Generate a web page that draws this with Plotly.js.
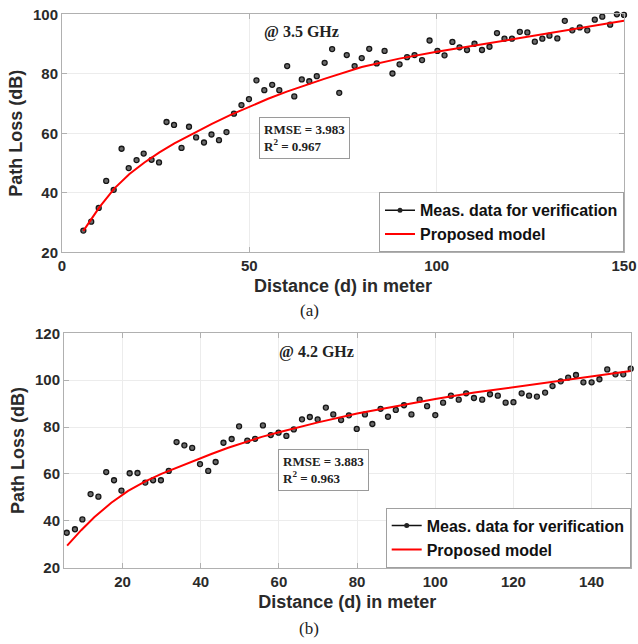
<!DOCTYPE html>
<html>
<head>
<meta charset="utf-8">
<script src="https://cdn.plot.ly/plotly-3.0.1.min.js"></script>
<style>html,body{margin:0;padding:0;background:#fff;}#chart{width:638px;height:644px;}</style>
</head>
<body>
<div id="chart"></div>
<script>
// (a) 3.5 GHz measured data
const distA = [5.7,7.8,9.8,11.8,13.8,15.9,17.8,19.9,21.8,23.9,25.9,27.9,29.9,31.9,33.9,35.8,37.9,39.9,41.9,43.9,45.9,47.9,49.9,51.9,54.0,56.1,58.0,60.1,62.0,64.0,66.0,68.0,70.1,72.1,74.0,76.0,78.1,80.0,82.0,84.0,86.1,88.2,90.1,92.1,94.1,96.1,98.1,100.2,102.1,104.2,106.1,108.1,110.1,112.1,114.1,116.1,118.1,120.1,122.2,124.2,126.2,128.2,130.1,132.2,134.2,136.2,138.2,140.2,142.2,144.2,146.3,148.1,150.0];
const lossA = [27.3,30.3,34.9,44.0,41.0,54.8,48.3,51.0,53.2,51.1,50.2,63.8,62.8,55.1,62.2,58.6,56.9,59.6,57.7,60.4,66.6,69.5,71.5,77.8,74.5,76.3,74.5,82.6,72.4,78.1,77.5,79.2,83.7,88.3,73.6,86.3,82.6,85.3,88.4,83.5,87.7,80.1,83.2,85.6,86.3,84.6,91.2,87.7,86.2,90.7,88.9,88.0,90.1,88.0,89.1,93.7,91.8,91.8,94.1,93.9,90.8,91.8,92.8,91.9,97.8,94.6,95.6,94.6,98.2,99.2,96.5,100.0,99.8];
// (a) proposed model curve
const modelDistA = [5.7,8,10,14,18,22,26,30,35,40,45,50,55,60,70,80,90,100,110,120,130,140,150];
const modelLossA = [27.2,31.5,35.2,41.5,46.3,50.2,53.6,56.6,60.0,63.2,66.2,69.0,71.6,74.0,78.3,82.3,85.1,87.4,89.5,91.6,93.7,95.8,97.8];

// (b) 4.2 GHz measured data
const distB = [5.7,7.8,9.7,11.8,13.8,15.8,17.8,19.7,21.8,23.8,25.8,27.8,29.8,31.8,33.8,35.8,37.8,39.8,41.9,43.8,45.8,47.9,49.8,51.9,53.9,55.9,57.9,59.9,61.9,63.8,65.9,67.9,69.9,72.0,73.9,75.9,77.9,79.9,82.0,83.9,86.0,87.9,89.9,92.0,93.9,96.0,97.9,100.0,102.0,104.0,106.0,107.9,109.9,112.0,114.0,116.0,118.0,120.0,122.1,124.0,126.0,128.1,130.0,132.1,134.0,136.0,137.9,140.0,142.0,144.0,146.1,148.1,150.0];
const lossB = [34.9,36.4,40.6,51.4,50.3,60.8,57.3,52.9,60.3,60.4,56.3,57.3,57.3,61.3,73.6,72.2,71.1,64.2,61.3,65.1,73.3,74.9,80.3,74.2,75.0,80.7,76.6,77.6,76.2,79.0,83.3,84.3,83.3,88.3,85.4,83.0,85.0,79.2,85.4,81.3,87.8,84.4,87.3,89.3,85.4,91.7,88.9,85.1,90.4,93.4,91.7,94.4,92.4,91.7,94.0,93.4,90.4,90.6,94.4,93.4,93.0,94.7,97.5,99.5,101.1,102.2,99.1,99.1,100.4,104.6,102.5,102.5,104.9];
// (b) proposed model curve
const modelDistB = [5.8,9.4,12.8,17.1,21.4,25.8,29.9,34.0,38.5,42.7,47.0,55.6,60,70,80,90,100,110,120,130,140,150];
const modelLossB = [29.4,36.0,41.6,47.7,52.8,56.8,60.0,62.8,65.8,68.5,71.2,75.8,77.8,82.0,85.8,89.0,92.0,94.7,97.0,99.3,101.6,103.9];

const xTicksA = [0,50,100,150];
const yTicksA = [20,40,60,80,100];
const xTicksB = [20,40,60,80,100,120,140];
const yTicksB = [20,40,60,80,100,120];

const seriesNames = ['Meas. data for verification','Proposed model'];
const statsA = ['RMSE = 3.983','R<sup>2</sup> = 0.967'];
const statsB = ['RMSE = 3.883','R<sup>2</sup> = 0.963'];

const W = 638, H = 644;
const sans = 'Liberation Sans, Arial, sans-serif';
const serif = 'Liberation Serif, Times New Roman, serif';

const markerStyle = {symbol:'circle', size:5, color:'#6a6a6a', line:{color:'#151515', width:1.3}};
const redLine = {color:'#ff0000', width:2};

const traces = [
  {x:distA, y:lossA, xaxis:'x', yaxis:'y', mode:'markers', marker:markerStyle, showlegend:false, cliponaxis:false},
  {x:modelDistA, y:modelLossA, xaxis:'x', yaxis:'y', mode:'lines', line:Object.assign({shape:'linear'}, redLine), showlegend:false},
  {x:[null], y:[null], xaxis:'x', yaxis:'y', mode:'lines+markers', name:seriesNames[0], line:{color:'#111', width:1.5}, marker:{symbol:'circle', size:5, color:'#222'}, legend:'legend'},
  {x:[null], y:[null], xaxis:'x', yaxis:'y', mode:'lines', name:seriesNames[1], line:redLine, legend:'legend'},

  {x:distB, y:lossB, xaxis:'x2', yaxis:'y2', mode:'markers', marker:markerStyle, showlegend:false, cliponaxis:false},
  {x:modelDistB, y:modelLossB, xaxis:'x2', yaxis:'y2', mode:'lines', line:Object.assign({shape:'linear'}, redLine), showlegend:false},
  {x:[null], y:[null], xaxis:'x2', yaxis:'y2', mode:'lines+markers', name:seriesNames[0], line:{color:'#111', width:1.5}, marker:{symbol:'circle', size:5, color:'#222'}, legend:'legend2'},
  {x:[null], y:[null], xaxis:'x2', yaxis:'y2', mode:'lines', name:seriesNames[1], line:redLine, legend:'legend2'}
];

function axisBase(){
  return {
    showline:true, linecolor:'#b0b0b0', linewidth:1, mirror:'ticks',
    ticks:'inside', ticklen:5, tickcolor:'#b0b0b0', tickwidth:1,
    showgrid:true, gridcolor:'#ececec', gridwidth:1, zeroline:false,
    tickfont:{family:sans, size:15, color:'#2a2a2a', weight:'bold'},
    fixedrange:true
  };
}
const titleFont = {family:sans, size:18, color:'#2a2a2a', weight:'bold'};

const xA = Object.assign(axisBase(), {domain:[62/W, 624/W], range:[0,150], tickvals:xTicksA, anchor:'y',
  title:{text:'Distance (d) in meter', font:titleFont, standoff:6}});
const yA = Object.assign(axisBase(), {domain:[1-252.3/H, 1-14.3/H], range:[20,100], tickvals:yTicksA, anchor:'x',
  title:{text:'Path Loss (dB)', font:titleFont, standoff:5}});
const xB = Object.assign(axisBase(), {domain:[64/W, 630.7/W], range:[5,150], tickvals:xTicksB, anchor:'y2',
  title:{text:'Distance (d) in meter', font:titleFont, standoff:6}});
const yB = Object.assign(axisBase(), {domain:[1-567.7/H, 1-333.3/H], range:[20,120], tickvals:yTicksB, anchor:'x2',
  title:{text:'Path Loss (dB)', font:titleFont, standoff:5}});

const legendBase = {
  bgcolor:'#ffffff', bordercolor:'#a0a0a0', borderwidth:1,
  font:{family:sans, size:16, color:'#111', weight:'bold'},
  xanchor:'right', yanchor:'bottom', tracegroupgap:0, itemwidth:30
};

const annos = [
  {text:'@ 3.5 GHz', xref:'paper', yref:'paper', x:301.7/W, y:1-31.7/H, xanchor:'center', yanchor:'middle', showarrow:false,
   font:{family:serif, size:16, color:'#222', weight:'bold'}},
  {text:statsA.join('<br>'), xref:'paper', yref:'paper', x:259/W, y:1-116.7/H, xanchor:'left', yanchor:'top', align:'left', showarrow:false,
   font:{family:serif, size:13, color:'#222', weight:'bold'}, bgcolor:'#ffffff', bordercolor:'#9a9a9a', borderwidth:1, borderpad:4},
  {text:'@ 4.2 GHz', xref:'paper', yref:'paper', x:316.7/W, y:1-351.7/H, xanchor:'center', yanchor:'middle', showarrow:false,
   font:{family:serif, size:16, color:'#222', weight:'bold'}},
  {text:statsB.join('<br>'), xref:'paper', yref:'paper', x:278.3/W, y:1-449.3/H, xanchor:'left', yanchor:'top', align:'left', showarrow:false,
   font:{family:serif, size:13, color:'#222', weight:'bold'}, bgcolor:'#ffffff', bordercolor:'#9a9a9a', borderwidth:1, borderpad:4},
  {text:'(a)', xref:'paper', yref:'paper', x:309/W, y:1-310/H, xanchor:'center', yanchor:'middle', showarrow:false,
   font:{family:serif, size:17, color:'#222'}},
  {text:'(b)', xref:'paper', yref:'paper', x:309/W, y:1-628/H, xanchor:'center', yanchor:'middle', showarrow:false,
   font:{family:serif, size:17, color:'#222'}}
];

const layout = {
  width:W, height:H,
  margin:{l:0, r:0, t:0, b:0},
  paper_bgcolor:'#ffffff', plot_bgcolor:'#ffffff',
  xaxis:xA, yaxis:yA, xaxis2:xB, yaxis2:yB,
  legend:Object.assign({}, legendBase, {x:624/W, y:1-252.3/H}),
  legend2:Object.assign({}, legendBase, {x:630.7/W, y:1-567.7/H}),
  annotations:annos,
  showlegend:true
};

Plotly.newPlot('chart', traces, layout, {staticPlot:true, displayModeBar:false});
</script>
</body>
</html>
